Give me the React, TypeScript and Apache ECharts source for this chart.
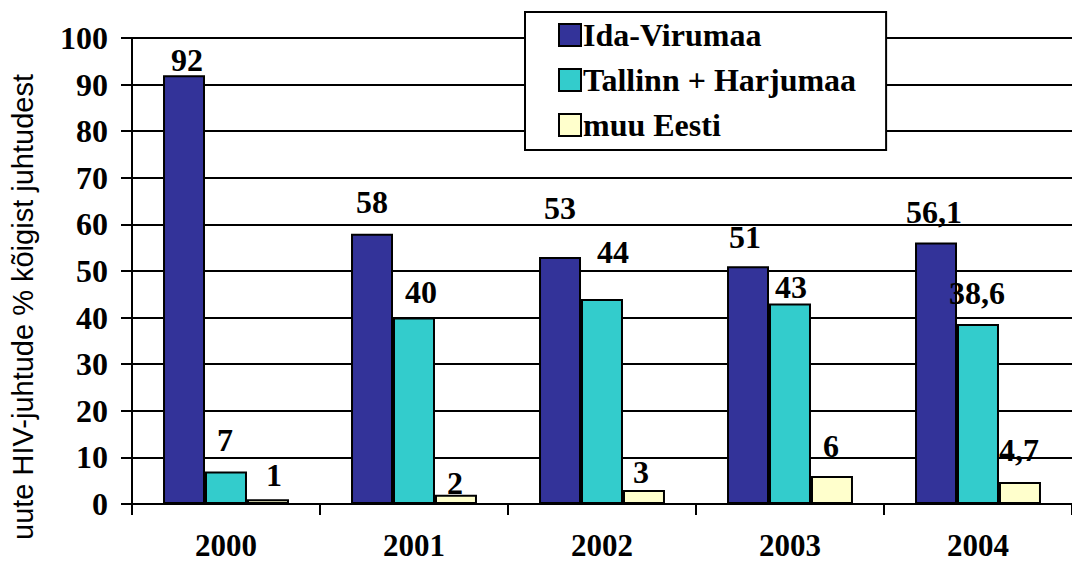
import React, { useEffect, useRef } from "react";
import * as echarts from "echarts";

const categories = ["2000", "2001", "2002", "2003", "2004"];
const seriesNames = ["Ida-Virumaa", "Tallinn + Harjumaa", "muu Eesti"];
const idaVirumaa = [92, 58, 53, 51, 56.1];
const tallinnHarjumaa = [7, 40, 44, 43, 38.6];
const muuEesti = [1, 2, 3, 6, 4.7];
const yTicks = [0, 10, 20, 30, 40, 50, 60, 70, 80, 90, 100];
const yTitle = "uute HIV-juhtude % kõigist juhtudest";

// label placement tweaks (mimicking the original layout)
const labelOffsets = [
  [[3, 1], [0, -16], [0, -33], [-3, -13], [-2, -15]],
  [[-1, -15], [7, -10], [11, -31], [1, -1], [-1, -15]],
  [[6, -8], [-1, 4], [-3, -2], [-1, -14], [-1, -16]],
];

const colors = ["#333399", "#33CCCC", "#FFFFCC"];
const serif = "'Times New Roman', 'Liberation Serif', serif";
const fs = 32;

export default function App() {
  const ref = useRef<HTMLDivElement>(null);
  useEffect(() => {
    if (!ref.current) return;
    const chart = echarts.init(ref.current, undefined, { renderer: "svg" });
    const allValues = [idaVirumaa, tallinnHarjumaa, muuEesti];
    const series = allValues.map((vals, si) => ({
      name: seriesNames[si],
      type: "bar",
      barGap: "0%",
      barCategoryGap: "33%",
      itemStyle: { color: colors[si], borderColor: "#000", borderWidth: 2 },
      label: {
        show: true,
        position: "top",
        distance: 0,
        fontFamily: serif,
        fontWeight: "bold",
        fontSize: fs,
        color: "#000",
        formatter: (p: any) => String(p.value).replace(".", ","),
      },
      data: vals.map((v, i) => ({ value: v, label: { offset: labelOffsets[si][i] } })),
    }));
    chart.setOption({
      animation: false,
      backgroundColor: "#fff",
      textStyle: { fontFamily: serif },
      grid: { left: 132, top: 38, bottom: 61, right: -10, containLabel: false },
      legend: {
        orient: "vertical",
        left: 525,
        top: 12,
        padding: [7, 30, 9, 33],
        itemWidth: 22,
        itemHeight: 22,
        itemGap: 13,
        icon: "rect",
        backgroundColor: "#fff",
        borderColor: "#000",
        borderWidth: 2,
        borderRadius: 0,
        textStyle: { fontFamily: serif, fontWeight: "bold", fontSize: fs, color: "#000", padding: [0, 0, 0, -3] },
        data: seriesNames,
      },
      xAxis: {
        type: "category",
        data: categories,
        axisLine: { lineStyle: { color: "#000", width: 2 } },
        axisTick: { show: true, length: 11, lineStyle: { color: "#000", width: 2 } },
        axisLabel: { fontFamily: serif, fontWeight: "bold", fontSize: 31, lineHeight: 24, color: "#000", margin: 29 },
      },
      yAxis: {
        type: "value",
        min: yTicks[0],
        max: yTicks[yTicks.length - 1],
        interval: 10,
        axisLine: { show: true, lineStyle: { color: "#000", width: 2 } },
        axisTick: { show: true, length: 11, lineStyle: { color: "#000", width: 2 } },
        axisLabel: { fontFamily: serif, fontWeight: "bold", fontSize: fs, color: "#000", margin: 24 },
        splitLine: { show: true, lineStyle: { color: "#000", width: 2 } },
      },
      graphic: [
        {
          type: "text",
          x: 23,
          y: 307,
          rotation: Math.PI / 2,
          style: {
            text: yTitle,
            fontFamily: "Arial, 'Liberation Sans', sans-serif",
            fontSize: 29,
            fill: "#000",
            align: "center",
            verticalAlign: "middle",
          },
        },
      ],
      series,
    });
    return () => chart.dispose();
  }, []);
  return (
    <div
      ref={ref}
      style={{ position: "fixed", left: 0, top: 0, width: 1072, height: 565 }}
    />
  );
}
